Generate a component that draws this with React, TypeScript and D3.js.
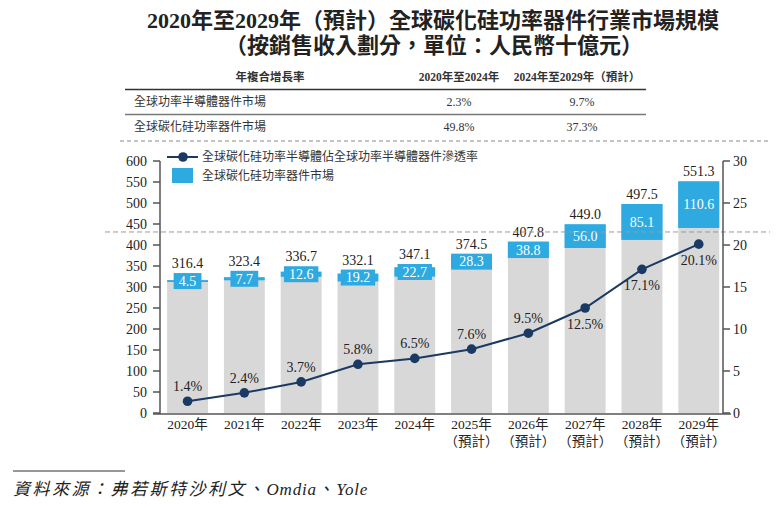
import * as d3 from 'd3';

const years = ['2020年', '2021年', '2022年', '2023年', '2024年', '2025年', '2026年', '2027年', '2028年', '2029年'];
const forecastFlags = [false, false, false, false, false, true, true, true, true, true];
const totalMarket = [316.4, 323.4, 336.7, 332.1, 347.1, 374.5, 407.8, 449.0, 497.5, 551.3];
const sicMarket = [4.5, 7.7, 12.6, 19.2, 22.7, 28.3, 38.8, 56.0, 85.1, 110.6];
const penetration = [1.4, 2.4, 3.7, 5.8, 6.5, 7.6, 9.5, 12.5, 17.1, 20.1];
const leftTicks = [0, 50, 100, 150, 200, 250, 300, 350, 400, 450, 500, 550, 600];
const rightTicks = [0, 5, 10, 15, 20, 25, 30];
const refLevel = 431;

const cagrHeader = ['年複合增長率', '2020年至2024年', '2024年至2029年（預計）'];
const cagrRows = ['全球功率半導體器件市場', '全球碳化硅功率器件市場'];
const cagrFirst = ['2.3%', '49.8%'];
const cagrSecond = ['9.7%', '37.3%'];

const legendLine = '全球碳化硅功率半導體佔全球功率半導體器件滲透率';
const legendBar = '全球碳化硅功率器件市場';

const FONT = "'Liberation Serif', 'Times New Roman', 'DejaVu Serif', 'Noto Sans CJK TC', serif";
const GRAY = '#d9d8d8';
const BLUE = '#2eaae0';
const NAVY = '#1b3a63';
const AXIS = '#555';

export default function App() {
  const W = 782;
  const H = 508;

  const x = d3.scaleBand<string>().domain(years).range([160, 726.3]).paddingInner(0.28).paddingOuter(0.125);
  const yL = d3.scaleLinear().domain([0, 600]).range([413, 161]);
  const yR = d3.scaleLinear().domain([0, 30]).range([413, 161]);
  const bw = x.bandwidth();

  const line = d3.line<number>()
    .x((_, i) => (x(years[i]) as number) + bw / 2)
    .y(d => yR(d));

  return (
    <svg width={W} height={H} style={{ position: 'absolute', left: 0, top: 0, background: '#fff', fontFamily: FONT }}>
      {/* title */}
      <text x={433} y={28} textAnchor="middle" fontSize={22} fontWeight="bold" fill="#222">
        2020年至2029年（預計）全球碳化硅功率器件行業市場規模
      </text>
      <text x={434} y={53} textAnchor="middle" fontSize={22} fontWeight="bold" fill="#222">
        （按銷售收入劃分，單位：人民幣十億元）
      </text>

      {/* CAGR table */}
      <g fontSize={11.5} fill="#333">
        <text x={270} y={81} textAnchor="middle" fontWeight="bold">{cagrHeader[0]}</text>
        <text x={459} y={81} textAnchor="middle" fontWeight="bold">{cagrHeader[1]}</text>
        <text x={577} y={81} textAnchor="middle" fontWeight="bold">{cagrHeader[2]}</text>
        <line x1={125} x2={646} y1={89.5} y2={89.5} stroke="#333" strokeWidth={1.5} />
        {cagrRows.map((r, i) => (
          <g key={r}>
            <text x={134} y={106 + i * 25} fontSize={12}>{r}</text>
            <text x={459} y={106 + i * 25} textAnchor="middle" fontSize={12}>{cagrFirst[i]}</text>
            <text x={582} y={106 + i * 25} textAnchor="middle" fontSize={12}>{cagrSecond[i]}</text>
          </g>
        ))}
        <line x1={125} x2={646} y1={114.5} y2={114.5} stroke="#777" strokeWidth={1.5} />
        <line x1={120} x2={770} y1={141} y2={141} stroke="#888" strokeWidth={1} strokeDasharray="4,3" />
      </g>

      {/* bars */}
      {years.map((yr, i) => {
        const bx = x(yr) as number;
        const top = yL(totalMarket[i]);
        const mid = yL(totalMarket[i] - sicMarket[i]);
        const segH = mid - top;
        const label = sicMarket[i].toFixed(1);
        const boxW = segH > 10 ? bw : Math.min(bw, label.length * 6.6 + 8);
        const boxH = Math.max(segH, 16);
        const cy = (top + mid) / 2;
        const boxTop = cy - boxH / 2;
        return (
          <g key={yr}>
            <rect x={bx} y={mid} width={bw} height={yL(0) - mid} fill={GRAY} />
            <rect x={bx} y={top} width={bw} height={segH} fill={BLUE} />
            <rect x={bx + (bw - boxW) / 2} y={boxTop} width={boxW} height={boxH} fill={BLUE} />
            <text x={bx + bw / 2} y={cy + 4.8} textAnchor="middle" fontSize={14} fill="#fff">{label}</text>
            <text x={bx + bw / 2} y={Math.min(top, boxTop) - 5} textAnchor="middle" fontSize={14} fill="#222">
              {totalMarket[i].toFixed(1)}
            </text>
          </g>
        );
      })}

      {/* reference dashed line */}
      <line x1={105} x2={770} y1={yL(refLevel)} y2={yL(refLevel)} stroke="#999" strokeWidth={1} strokeDasharray="5,3" />

      {/* penetration line */}
      <path d={line(penetration) as string} fill="none" stroke={NAVY} strokeWidth={2} />
      {penetration.map((p, i) => {
        const cx = (x(years[i]) as number) + bw / 2;
        const cy = yR(p);
        const below = i >= 7;
        return (
          <g key={i}>
            <circle cx={cx} cy={cy} r={4.8} fill={NAVY} />
            <text x={cx} y={below ? cy + 21 : cy - 10} textAnchor="middle" fontSize={14} fill="#222">
              {p.toFixed(1)}%
            </text>
          </g>
        );
      })}

      {/* axes */}
      <g stroke={AXIS} strokeWidth={1.5}>
        <line x1={160} x2={160} y1={yL(600)} y2={yL(0) + 1} />
        <line x1={723} x2={723} y1={yR(30)} y2={yL(0) + 1} />
        <line x1={153} x2={731} y1={yL(0) + 1} y2={yL(0) + 1} />
        {leftTicks.map(t => (
          <line key={t} x1={153} x2={160} y1={yL(t)} y2={yL(t)} />
        ))}
        {rightTicks.map(t => (
          <line key={t} x1={723} x2={730} y1={yR(t)} y2={yR(t)} />
        ))}
      </g>
      <g fontSize={14} fill="#222">
        {leftTicks.map(t => (
          <text key={t} x={147} y={yL(t) + 4.5} textAnchor="end">{t}</text>
        ))}
        {rightTicks.map(t => (
          <text key={t} x={733} y={yR(t) + 5} textAnchor="start">{t}</text>
        ))}
        {years.map((yr, i) => (
          <g key={yr}>
            <text x={(x(yr) as number) + bw / 2} y={429} textAnchor="middle" fontSize={13.5}>{yr}</text>
            {forecastFlags[i] && (
              <text x={(x(yr) as number) + bw / 2} y={446} textAnchor="middle" fontSize={13.5}>（預計）</text>
            )}
          </g>
        ))}
      </g>

      {/* legend */}
      <line x1={167} x2={198} y1={157} y2={157} stroke={NAVY} strokeWidth={2} />
      <circle cx={183} cy={157} r={4.8} fill={NAVY} />
      <text x={202} y={161} fontSize={12} fill="#333">{legendLine}</text>
      <rect x={172} y={168} width={21} height={15} fill={BLUE} />
      <text x={202} y={180} fontSize={12} fill="#333">{legendBar}</text>

      {/* source */}
      <line x1={13} x2={125} y1={471} y2={471} stroke="#333" strokeWidth={1} />
      <text x={13} y={495} fontSize={17} fontStyle="italic" fill="#222">
        <tspan letterSpacing={2.5}>資料來源：弗若斯特沙利文、</tspan>
        <tspan letterSpacing={0.8}>Omdia</tspan>
        <tspan letterSpacing={2.5}>、</tspan>
        <tspan letterSpacing={0.8}>Yole</tspan>
      </text>
    </svg>
  );
}
